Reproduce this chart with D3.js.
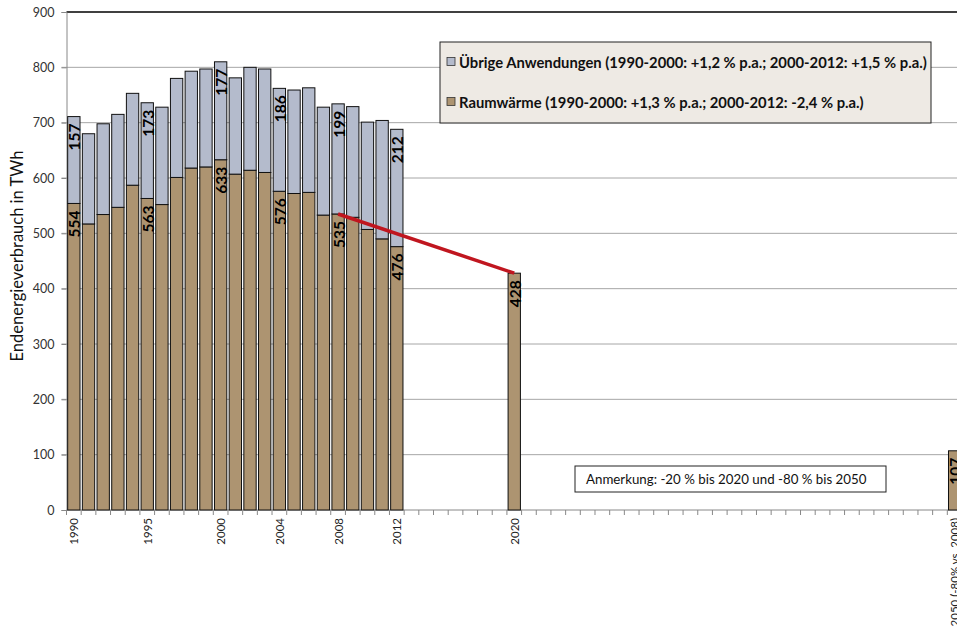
<!DOCTYPE html>
<html>
<head>
<meta charset="utf-8">
<script src="https://cdn.jsdelivr.net/npm/d3@7"></script>
<style>
  html, body { margin: 0; padding: 0; background: #fff; overflow: hidden; }
  svg { display: block; font-family: Lato, "Open Sans", "Liberation Sans", sans-serif; }
</style>
</head>
<body>
<svg id="chart" width="957" height="634"></svg>
<script>
// ---------- data ----------
const years = [1990,1991,1992,1993,1994,1995,1996,1997,1998,1999,2000,2001,2002,2003,2004,2005,2006,2007,2008,2009,2010,2011,2012,2020,2050];
const raumwaerme = [554,517,534,547,587,563,552,601,618,620,633,607,614,610,576,572,574,533,535,529,507,490,476,428,107];
const uebrige    = [157,163,164,168,166,173,176,179,175,177,177,174,186,187,186,187,189,195,199,200,194,214,212,0,0];
const labelYears = [1990,1995,2000,2004,2008,2012,2020,2050];
const tickYears  = [1990,1995,2000,2004,2008,2012,2020,2050];
const tickTexts  = ["1990","1995","2000","2004","2008","2012","2020","2050 (-80% vs. 2008)"];
const trendYears = [2008,2020];
const trendValues = [535,428];
const yTicks = [0,100,200,300,400,500,600,700,800,900];
const seriesNames = ["Übrige Anwendungen (1990-2000: +1,2 % p.a.; 2000-2012: +1,5 % p.a.)",
                     "Raumwärme (1990-2000: +1,3 % p.a.; 2000-2012: -2,4 % p.a.)"];
const yTitle = "Endenergieverbrauch in TWh";
const note = "Anmerkung: -20 % bis 2020 und -80 % bis 2050";

(function () {
// ---------- layout ----------
const svg = d3.select("#chart");
const pLeft = 66.5, pRight = 962, pTop = 12, pBottom = 510;
const colBrown = "#AD9471", colBlue = "#B4BBCC";

const slots = d3.range(1990, 2051).map(String);
const x = d3.scaleBand().domain(slots).range([pLeft, pRight]).paddingInner(0.16).paddingOuter(0.08);
const y = d3.scaleLinear().domain([0, 900]).range([pBottom, pTop]);

// gridlines
svg.append("g").selectAll("line").data(yTicks.filter(d => d > 0 && d < 900)).join("line")
  .attr("x1", pLeft - 5).attr("x2", 957).attr("y1", d => y(d)).attr("y2", d => y(d))
  .attr("stroke", "#A6A6A6").attr("stroke-width", 1);
// top border
svg.append("line").attr("x1", pLeft).attr("x2", 957).attr("y1", y(900)).attr("y2", y(900))
  .attr("stroke", "#000").attr("stroke-width", 1.3);

// y axis
const yAxis = d3.axisLeft(y).tickValues(yTicks).tickSize(5).tickPadding(7);
const gy = svg.append("g").attr("transform", `translate(${pLeft},0)`).call(yAxis);
gy.select(".domain").attr("stroke", "#888");
gy.selectAll(".tick line").attr("stroke", "#888");
gy.selectAll("text").attr("font-size", 12.5).attr("fill", "#333")
  .attr("font-family", "Lato, sans-serif");

// x axis ticks at slot boundaries
const bounds = d3.range(0, slots.length + 1).map(i => pLeft + i * x.step());
svg.append("g").selectAll("line").data(bounds).join("line")
  .attr("x1", d => d).attr("x2", d => d).attr("y1", pBottom).attr("y2", pBottom + 5)
  .attr("stroke", "#888");
svg.append("line").attr("x1", pLeft).attr("x2", 957).attr("y1", pBottom).attr("y2", pBottom)
  .attr("stroke", "#888");

// bars
const data = years.map((yr, i) => ({yr: String(yr), r: raumwaerme[i], u: uebrige[i]}));
const gb = svg.append("g");
gb.selectAll("rect.r").data(data).join("rect").attr("class", "r")
  .attr("x", d => x(d.yr)).attr("width", x.bandwidth())
  .attr("y", d => y(d.r)).attr("height", d => y(0) - y(d.r))
  .attr("fill", colBrown).attr("stroke", "#111").attr("stroke-width", 1);
gb.selectAll("rect.u").data(data.filter(d => d.u > 0)).join("rect").attr("class", "u")
  .attr("x", d => x(d.yr)).attr("width", x.bandwidth())
  .attr("y", d => y(d.r + d.u)).attr("height", d => y(d.r) - y(d.r + d.u))
  .attr("fill", colBlue).attr("stroke", "#111").attr("stroke-width", 1);

// trend line
svg.append("line")
  .attr("x1", x(String(trendYears[0])) + x.bandwidth()/2).attr("y1", y(trendValues[0]))
  .attr("x2", x(String(trendYears[1])) + x.bandwidth()/2).attr("y2", y(trendValues[1]))
  .attr("stroke", "#C0161F").attr("stroke-width", 3.5);

// value labels
const lab = data.filter(d => labelYears.includes(+d.yr));
function vlabel(g, cx, ytop, txt) {
  g.append("text").attr("transform", `translate(${cx},${ytop + 7}) rotate(-90)`)
    .attr("text-anchor", "end").attr("dominant-baseline", "central")
    .attr("font-size", 15.5).attr("font-weight", "bold").attr("fill", "#000").text(txt);
}
const gl = svg.append("g");
lab.forEach(d => {
  const cx = x(d.yr) + x.bandwidth()/2 + 0.5;
  vlabel(gl, cx, y(d.r), d.r);
  if (d.u > 0) vlabel(gl, cx, y(d.r + d.u), d.u);
});

// x tick labels
svg.append("g").selectAll("text").data(tickYears).join("text")
  .attr("transform", d => `translate(${x(String(d)) + x.bandwidth()/2},${pBottom + 8}) rotate(-90)`)
  .attr("text-anchor", "end").attr("dominant-baseline", "central")
  .attr("font-size", 11.5).attr("fill", "#222")
  .text((d, i) => tickTexts[i]);

// y title
svg.append("text").attr("transform", "translate(17,256) rotate(-90)")
  .attr("text-anchor", "middle").attr("dominant-baseline", "central")
  .attr("font-size", 16.5).attr("fill", "#111").text(yTitle);

// legend
const lg = svg.append("g");
lg.append("rect").attr("x", 440).attr("y", 42).attr("width", 491).attr("height", 81)
  .attr("fill", "#EEEAE4").attr("stroke", "#222").attr("stroke-width", 1);
const texts = [];
[[colBlue, 62], [colBrown, 102]].forEach(([c, cy], i) => {
  lg.append("rect").attr("x", 447).attr("y", cy - 4.5).attr("width", 8).attr("height", 8)
    .attr("fill", c).attr("stroke", "#333").attr("stroke-width", 0.8);
  texts.push(lg.append("text").attr("x", 459).attr("y", cy).attr("dominant-baseline", "central")
    .attr("font-size", 12.5).attr("font-weight", "bold").attr("fill", "#111").text(seriesNames[i]));
});
const w0 = texts[0].node().getComputedTextLength();
const fs = w0 > 0 ? 12.5 * 468 / w0 : 12.5;
texts.forEach(t => t.attr("font-size", fs));

// note box
svg.append("rect").attr("x", 575).attr("y", 466).attr("width", 311).attr("height", 26)
  .attr("fill", "#fff").attr("stroke", "#222").attr("stroke-width", 1);
svg.append("text").attr("x", 586).attr("y", 479).attr("dominant-baseline", "central")
  .attr("font-size", 13.3).attr("fill", "#111").text(note);
})();
</script>
</body>
</html>
